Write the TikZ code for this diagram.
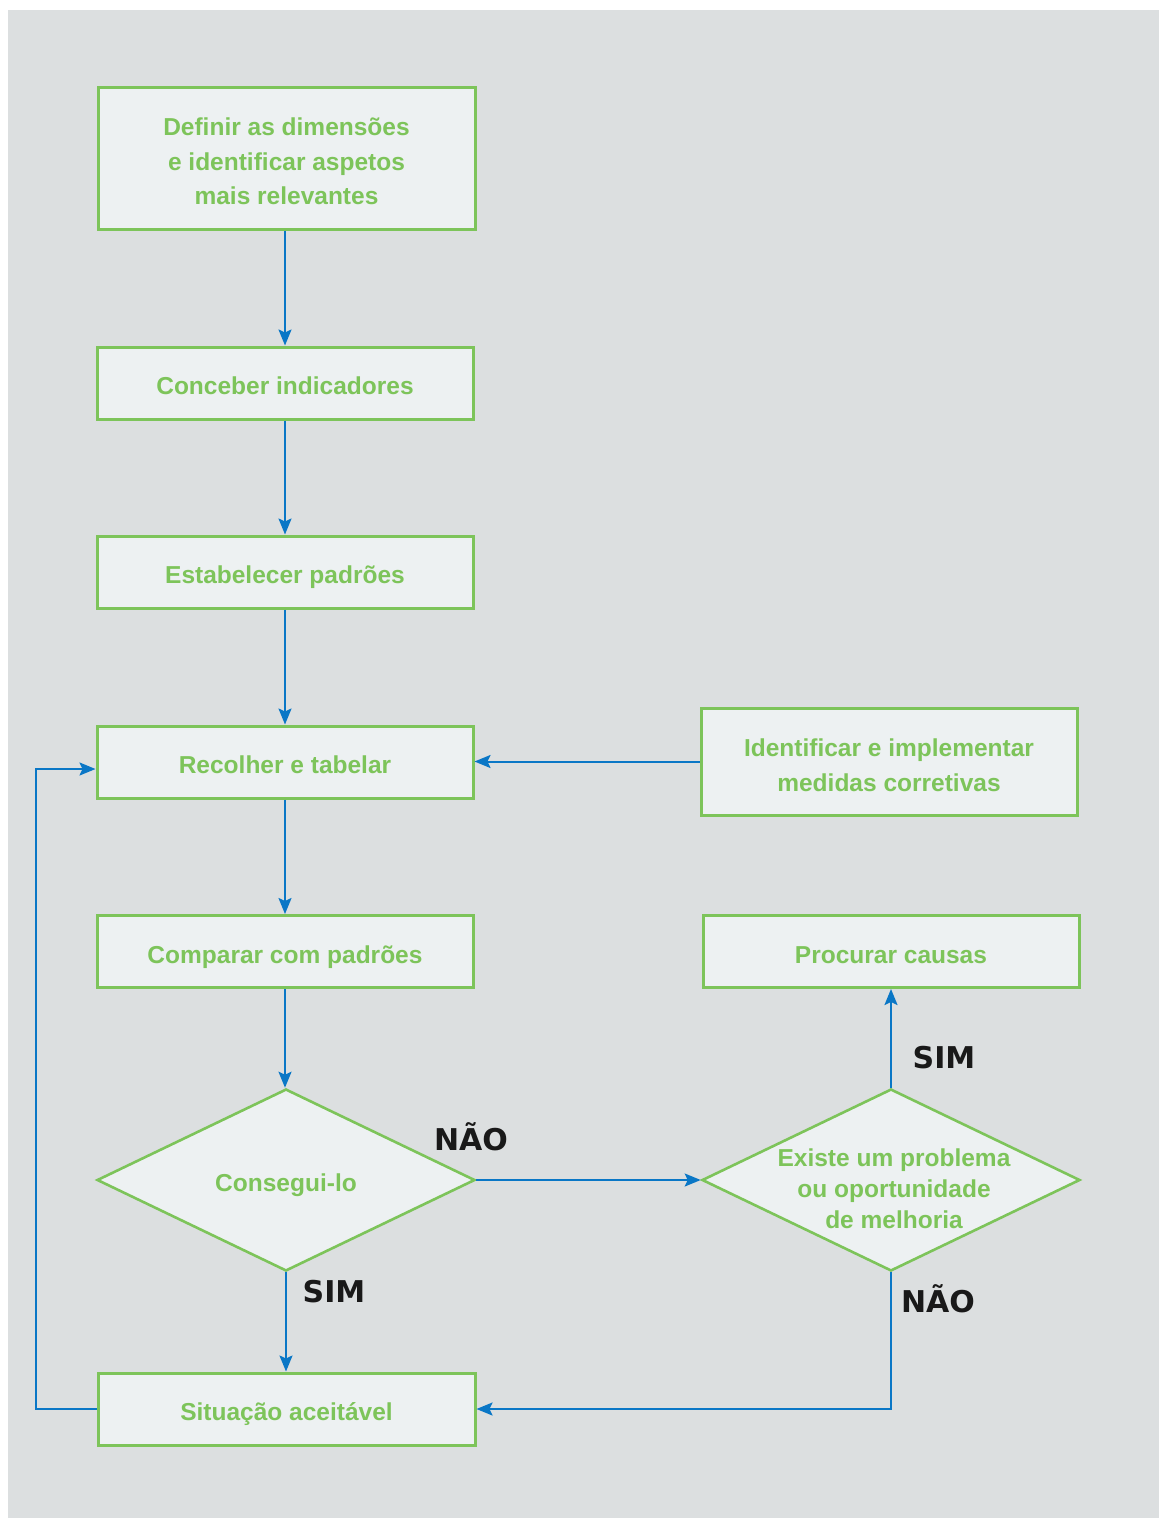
\documentclass[tikz,border=0pt]{standalone}
\usepackage{fontspec}
\setmainfont{Liberation Sans}
\newfontfamily\lblfont{DejaVu Sans}
\usetikzlibrary{shapes.geometric,arrows.meta}
\definecolor{bgc}{HTML}{DCDFE0}
\definecolor{boxc}{HTML}{EDF1F2}
\definecolor{grn}{HTML}{7DC45A}
\definecolor{blu}{HTML}{0A77C6}
\tikzset{
  box/.style={draw=grn, fill=boxc, line width=3pt, rectangle, inner sep=0pt,
    minimum width=376pt, minimum height=72pt},
  btxt/.style={text=grn, align=center, inner sep=0pt,
    font=\fontsize{24.5}{34.5}\selectfont\bfseries},
  dia/.style={draw=grn, fill=boxc, line width=2.6pt, diamond, inner sep=0pt,
    minimum width=378pt, minimum height=182pt},
  diatxt/.style={text=grn, align=center, inner sep=0pt,
    font=\fontsize{24.5}{31}\selectfont\bfseries},
  lbl/.style={text=black!90, inner sep=0pt, font=\lblfont\fontsize{30}{34}\selectfont\bfseries},
  arr/.style={draw=blu, line width=2pt, -{Stealth[length=16pt,width=13pt,inset=3pt]}},
}
\begin{document}
\begin{tikzpicture}[x=1pt,y=-1pt]
\useasboundingbox (0,0) rectangle (1159,1518);
\fill[bgc] (8,10) rectangle (1159,1518);

\node[box, minimum height=142pt, minimum width=377pt] (def) at (286.5,158) {};
\node[btxt] (defT) at ([yshift=-3.5pt]def.center) {Definir as dimensões\\e identificar aspetos\\mais relevantes};
\node[box] (con) at (285,383) {};
\node[btxt] (conT) at ([yshift=-3pt]con.center) {Conceber indicadores};
\node[box] (est) at (285,572) {};
\node[btxt] (estT) at ([yshift=-5pt]est.center) {Estabelecer padrões};
\node[box] (rec) at (285,762) {};
\node[btxt] (recT) at ([yshift=-3pt]rec.center) {Recolher e tabelar};
\node[box, minimum height=107pt] (idm) at (889,761.5) {};
\node[btxt] (idmT) at ([yshift=-3.5pt]idm.center) {Identificar e implementar\\medidas corretivas};
\node[box] (cmp) at (285,951.5) {};
\node[btxt] (cmpT) at ([yshift=-6pt]cmp.center) {Comparar com padrões};
\node[box] (pro) at (891,951.5) {};
\node[btxt] (proT) at ([yshift=-4pt]pro.center) {Procurar causas};
\node[dia] (cons) at (286,1180) {};
\node[diatxt] (consT) at (286,1185) {Consegui-lo};
\node[dia] (exi) at (891,1180) {};
\node[diatxt] (exiT) at (894,1189) {Existe um problema\\ou oportunidade\\de melhoria};
\node[box, minimum width=377pt] (sit) at (286.5,1409) {};
\node[btxt] (sitT) at ([yshift=-5pt]sit.center) {Situação aceitável};

\node[lbl] (l1) at (471,1137) {NÃO};
\node[lbl] (l2) at (944,1058) {SIM};
\node[lbl] (l3) at (334,1292) {SIM};
\node[lbl] (l4) at (938,1299) {NÃO};

\draw[arr] (def.south -| con.north) -- (con.north);
\draw[arr] (con) -- (est);
\draw[arr] (est) -- (rec);
\draw[arr] (rec) -- (cmp);
\draw[arr] (cmp.south) -- (cons.north -| cmp.south);
\draw[arr] (cons.south) -- (sit.north -| cons.south);
\draw[arr] (cons.east) -- (exi.west);
\draw[arr] (exi.north) -- (pro.south);
\draw[arr] (exi.south) |- (sit.east);
\draw[arr] (idm.west) -- (idm.west -| rec.east);
\draw[arr] (sit.west) -| ([xshift=-60pt,yshift=-7pt]rec.west) -- ([yshift=-7pt]rec.west);
\end{tikzpicture}
\end{document}
